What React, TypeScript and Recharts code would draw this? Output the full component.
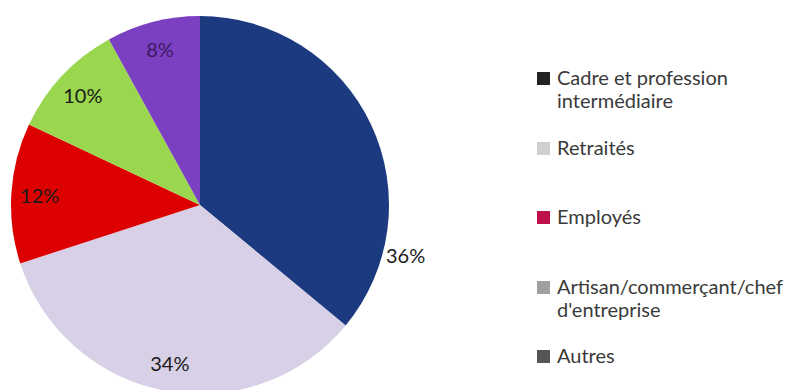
import { PieChart, Pie, Cell, Legend } from 'recharts'

const categories = [
  'Cadre et profession intermédiaire',
  'Retraités',
  'Employés',
  'Artisan/commerçant/chef d\'entreprise',
  'Autres',
]
const shares = [36, 34, 12, 10, 8]

const sliceColors = ['#1c3a80', '#d8d0e6', '#dd0000', '#9ad64e', '#7b40c2']
// the legend swatches in the original don't match the slices
const legendColors = ['#222222', '#cfcfcf', '#c0104a', '#a0a0a0', '#555555']

const data = categories.map((name, i) => ({ name, value: shares[i] }))

const RADIAN = Math.PI / 180

// rough word wrap, same as the original legend
function wrap(text: string, max = 24) {
  const lines: string[] = []
  let cur = ''
  for (const w of text.split(' ')) {
    if (cur && (cur + ' ' + w).length > max) {
      lines.push(cur)
      cur = w
    } else {
      cur = cur ? cur + ' ' + w : w
    }
  }
  if (cur) lines.push(cur)
  return lines
}

function renderLabel(props: any) {
  const { cx, cy, midAngle, outerRadius, value, index } = props
  // first slice label sits outside, lower than its middle
  const r = index === 0 ? outerRadius * 1.12 : outerRadius * 0.85
  const a = index === 0 ? midAngle - 39 : midAngle
  const x = cx + r * Math.cos(-a * RADIAN)
  const y = cy + r * Math.sin(-a * RADIAN)
  return (
    <text
      x={x}
      y={y}
      textAnchor="middle"
      dominantBaseline="central"
      fill={index === 4 ? '#3a1a60' : '#1a1a1a'}
      fontSize={20}
      fontFamily="Lato, sans-serif"
    >
      {value}%
    </text>
  )
}

function renderLegend() {
  return (
    <div style={{ position: 'relative', width: 260, height: 320, fontFamily: 'Lato, sans-serif', fontSize: 20, color: '#3a3a3a' }}>
      {categories.map((name, i) => (
        <div key={name} style={{ position: 'absolute', left: 0, top: i * 69.5, display: 'flex', whiteSpace: 'nowrap' }}>
          <div style={{ width: 13, height: 13, background: legendColors[i], marginTop: 6, marginRight: 7, flexShrink: 0 }} />
          <div style={{ lineHeight: '23px' }}>
            {wrap(name).map((l) => (
              <div key={l}>{l}</div>
            ))}
          </div>
        </div>
      ))}
    </div>
  )
}

export default function App() {
  return (
    <div style={{ position: 'absolute', left: 0, top: 0, background: '#fff', overflow: 'hidden', width: 792, height: 390 }}>
      <PieChart width={792} height={390} margin={{ top: 0, right: 0, bottom: 0, left: 0 }}>
        <Pie
          data={data}
          dataKey="value"
          nameKey="name"
          cx={200}
          cy={205}
          outerRadius={189}
          startAngle={90}
          endAngle={-270}
          stroke="none"
          label={renderLabel}
          labelLine={false}
          isAnimationActive={false}
        >
          {data.map((d, i) => (
            <Cell key={d.name} fill={sliceColors[i]} />
          ))}
        </Pie>
        <Legend content={renderLegend} wrapperStyle={{ left: 537, top: 66, width: 255 }} />
      </PieChart>
    </div>
  )
}
